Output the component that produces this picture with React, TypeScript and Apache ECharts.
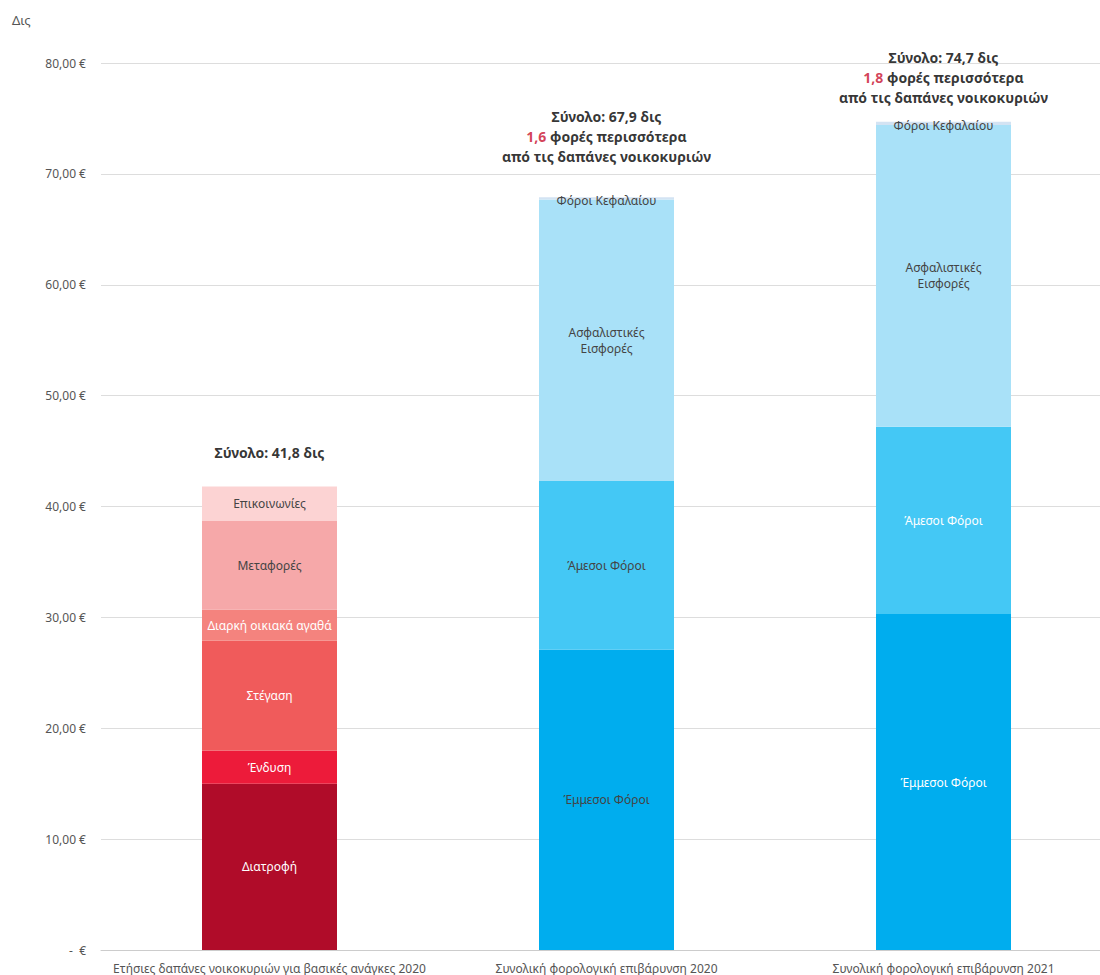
import React, { useEffect, useRef } from "react";
import * as echarts from "echarts";

const categories = [
  "Ετήσιες δαπάνες νοικοκυριών για βασικές ανάγκες 2020",
  "Συνολική φορολογική επιβάρυνση 2020",
  "Συνολική φορολογική επιβάρυνση 2021",
];

// household basic needs 2020 (first bar only)
const householdNames = ["Διατροφή", "Ένδυση", "Στέγαση", "Διαρκή οικιακά αγαθά", "Μεταφορές", "Επικοινωνίες"];
const householdValues = [15.0, 3.0, 9.9, 2.8, 8.0, 3.1];
const householdColors = ["#B00C29", "#ED1B3A", "#F05B5B", "#F4837E", "#F6A8A9", "#FCD3D3"];
const householdLabelColors = ["#ffffff", "#ffffff", "#ffffff", "#ffffff", "#444444", "#444444"];

// tax burden 2020 / 2021 (second and third bars)
const taxNames = ["Έμμεσοι Φόροι", "Άμεσοι Φόροι", "Ασφαλιστικές\nΕισφορές", "Φόροι Κεφαλαίου"];
const tax2020 = [27.1, 15.2, 25.4, 0.2];
const tax2021 = [30.3, 16.9, 27.2, 0.3];
const taxColors = ["#00ADEE", "#44C8F5", "#A9E1F8", "#D3E3F3"];
const taxLabelColors2020 = ["#444444", "#444444", "#444444", "#444444"];
const taxLabelColors2021 = ["#ffffff", "#ffffff", "#444444", "#444444"];

const totals = [41.8, 67.9, 74.7];
const ratios = ["", "1,6", "1,8"];
const totalOffsets = [-34, -61, -44];

const yTicks = { min: 0, max: 80, interval: 10 };

const FONT = "'Noto Sans', sans-serif";

function fmt(v: number) {
  if (v === 0) return "-  €";
  return v.toFixed(2).replace(".", ",") + " €";
}

export default function App() {
  const ref = useRef<HTMLDivElement>(null);
  useEffect(() => {
    if (!ref.current) return;
    const chart = echarts.init(ref.current, undefined, { renderer: "svg" });
    const series: any[] = [];
    householdNames.forEach((n, i) => {
      series.push({
        type: "bar",
        name: n,
        stack: "s",
        barWidth: 135,
        itemStyle: { color: householdColors[i] },
        label: {
          show: true,
          position: "inside",
          formatter: n,
          color: householdLabelColors[i],
          fontSize: 12,
          fontFamily: FONT,
        },
        data: [householdValues[i], null, null],
      });
    });
    taxNames.forEach((n, i) => {
      series.push({
        type: "bar",
        name: n,
        stack: "s",
        barWidth: 135,
        itemStyle: { color: taxColors[i] },
        label: {
          show: true,
          position: "inside",
          offset: i === 3 ? [0, 2] : [0, 0],
          formatter: n,
          fontSize: 12,
          lineHeight: 16,
          fontFamily: FONT,
        },
        data: [
          null,
          { value: tax2020[i], label: { color: taxLabelColors2020[i] } },
          { value: tax2021[i], label: { color: taxLabelColors2021[i] } },
        ],
      });
    });
    series.push({
      type: "scatter",
      symbolSize: 0,
      silent: true,
      z: 10,
      data: totals.map((t, i) => ({
        value: t,
        label: {
          show: true,
          position: "inside",
          offset: [0, totalOffsets[i]],
          formatter: () => {
            const tot = "{b|Σύνολο: " + t.toFixed(1).replace(".", ",") + " δις}";
            if (!ratios[i]) return tot;
            return tot + "\n{r|" + ratios[i] + "}{b| φορές περισσότερα}\n{b|από τις δαπάνες νοικοκυριών}";
          },
          rich: {
            b: { fontSize: 14, fontWeight: "bold", color: "#000000", fontFamily: FONT, lineHeight: 20 },
            r: { fontSize: 14, fontWeight: "bold", color: "#C8102E", fontFamily: FONT, lineHeight: 20 },
          },
        },
      })),
    });
    chart.setOption({
      animation: false,
      grid: { left: 101, right: 0, top: 63, bottom: 25, containLabel: false },
      graphic: [
        {
          type: "text",
          left: 12,
          top: 13,
          style: { text: "Δις", fontSize: 13, fill: "#555555", fontFamily: FONT },
        },
      ],
      xAxis: {
        type: "category",
        data: categories,
        axisTick: { show: false },
        axisLine: { lineStyle: { color: "#cccccc" } },
        axisLabel: { color: "#555555", fontSize: 12, fontFamily: FONT, margin: 12, interval: 0 },
      },
      yAxis: {
        type: "value",
        min: yTicks.min,
        max: yTicks.max,
        interval: yTicks.interval,
        axisLine: { show: false },
        axisTick: { show: false },
        splitLine: { lineStyle: { color: "#dddddd" } },
        axisLabel: { color: "#555555", fontSize: 12, fontFamily: FONT, margin: 15, formatter: fmt },
      },
      series,
    });
    return () => chart.dispose();
  }, []);
  return (
    <div
      style={{
        position: "fixed",
        left: 0,
        top: 0,
        width: 1100,
        height: 975,
        overflow: "hidden",
        background: "#ffffff",
      }}
    >
      <div ref={ref} style={{ width: 1112, height: 975 }} />
    </div>
  );
}
